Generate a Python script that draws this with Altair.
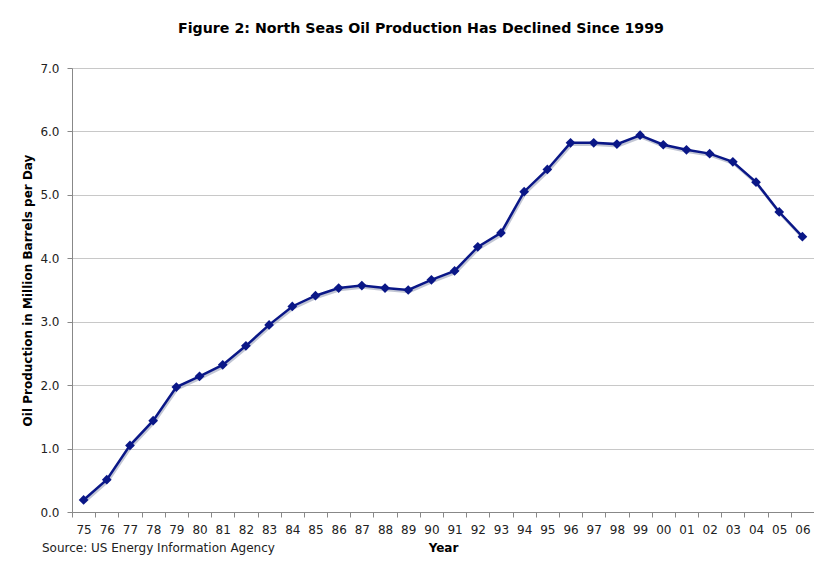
import altair as alt
import pandas as pd

years = ["75","76","77","78","79","80","81","82","83","84","85","86","87","88","89","90",
         "91","92","93","94","95","96","97","98","99","00","01","02","03","04","05","06"]
production = [0.19,0.51,1.05,1.44,1.97,2.14,2.32,2.62,2.95,3.24,3.41,3.53,3.57,3.53,3.50,3.66,
              3.80,4.18,4.40,5.05,5.40,5.82,5.82,5.80,5.94,5.79,5.71,5.65,5.52,5.20,4.73,4.34]

df = pd.DataFrame({"Year": years, "Production": production})

FONT = "DejaVu Sans"

x = alt.X("Year:N", sort=years, title="Year",
          scale=alt.Scale(paddingInner=0, paddingOuter=0),
          axis=alt.Axis(tickBand="extent", labelAngle=0, labelFont=FONT, labelFontSize=12,
                        labelColor="#222222", titleFont=FONT, titleFontSize=12,
                        titleFontWeight="bold", titleColor="#000000", titlePadding=7,
                        domainColor="#888888", tickColor="#888888", tickSize=5,
                        labelPadding=7, grid=False))
y = alt.Y("Production:Q", title="Oil Production in Million Barrels per Day",
          scale=alt.Scale(domain=[0, 7]),
          axis=alt.Axis(values=[0,1,2,3,4,5,6,7], format=".1f", labelFont=FONT,
                        labelFontSize=12, labelColor="#222222", titleFont=FONT,
                        titleFontSize=12, titleFontWeight="bold", titleColor="#000000",
                        titlePadding=5, domainColor="#888888", tickColor="#888888",
                        tickSize=5, gridColor="#c8c8c8", labelPadding=8))

base = alt.Chart(df)
shadow = base.mark_line(color="#9aa0b8", strokeWidth=2.5, opacity=0.6, xOffset=1, yOffset=2).encode(x=x, y=y)
line = base.mark_line(color="#0a1787", strokeWidth=2.5).encode(x=x, y=y)
pts = base.mark_point(shape="diamond", filled=True, size=95, color="#0a1787", opacity=1).encode(x=x, y=y)

src = alt.Chart(pd.DataFrame({"t": ["Source: US Energy Information Agency"]})).mark_text(
    font=FONT, fontSize=12, color="#222222", align="left", baseline="middle"
).encode(x=alt.value(-30), y=alt.value(480), text="t:N")

chart = alt.layer(shadow, line, pts, src).properties(
    width=742, height=444,
    title=alt.TitleParams("Figure 2: North Seas Oil Production Has Declined Since 1999",
                          font=FONT, fontSize=14.2, fontWeight="bold", color="#000000",
                          anchor="middle", offset=26, dx=-22),
    autosize=alt.AutoSizeParams(type="none"),
    padding={"left": 64, "top": 60, "right": 0, "bottom": 44},
).configure_view(stroke=None).configure(background="white")

chart.save("out.html", embed_options={"renderer": "svg", "actions": False})
